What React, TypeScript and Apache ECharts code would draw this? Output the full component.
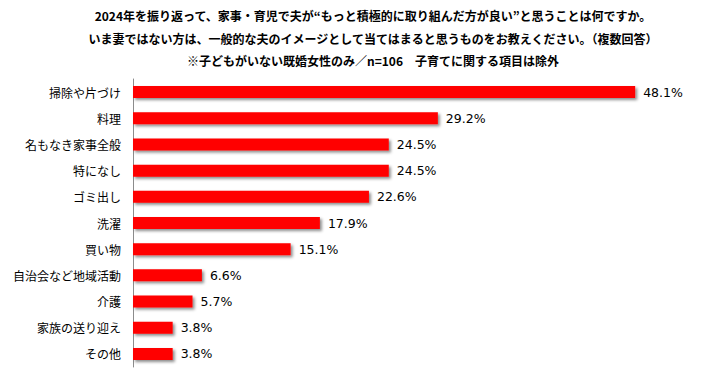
import React, { useEffect, useRef } from "react";
import * as echarts from "echarts";

const titleLines = [
  "2024年を振り返って、家事・育児で夫が“もっと積極的に取り組んだ方が良い”と思うことは何ですか。",
  "いま妻ではない方は、一般的な夫のイメージとして当てはまると思うものをお教えください。（複数回答）",
  "※子どもがいない既婚女性のみ／n=106　子育てに関する項目は除外",
];

const categories = [
  "掃除や片づけ",
  "料理",
  "名もなき家事全般",
  "特になし",
  "ゴミ出し",
  "洗濯",
  "買い物",
  "自治会など地域活動",
  "介護",
  "家族の送り迎え",
  "その他",
];

const values = [48.1, 29.2, 24.5, 24.5, 22.6, 17.9, 15.1, 6.6, 5.7, 3.8, 3.8];

export default function App() {
  const ref = useRef<HTMLDivElement>(null);
  useEffect(() => {
    if (!ref.current) return;
    const chart = echarts.init(ref.current, undefined, { renderer: "svg" });
    const titleY = [15, 38, 60];
    chart.setOption({
      animation: false,
      backgroundColor: "#ffffff",
      graphic: titleLines.map((t, i) => ({
        type: "text",
        x: 373,
        y: titleY[i],
        style: {
          text: t,
          fill: "#000000",
          font: "bold 12px 'Noto Sans CJK JP'",
          align: "center",
          verticalAlign: "middle",
        },
      })),
      grid: { left: 133, right: 49, top: 79, bottom: 13, containLabel: false },
      xAxis: {
        type: "value",
        min: 0,
        max: 50,
        show: false,
      },
      yAxis: {
        type: "category",
        data: categories,
        inverse: true,
        axisLine: { show: true, lineStyle: { color: "#8c8c8c", width: 1 } },
        axisTick: { show: false },
        axisLabel: {
          margin: 12,
          color: "#000000",
          fontSize: 12,
          fontFamily: "'Noto Sans CJK JP'",
        },
      },
      series: [
        {
          type: "bar",
          data: values,
          barWidth: 12,
          itemStyle: {
            color: "#ff0000",
            shadowColor: "rgba(0,0,0,0.45)",
            shadowBlur: 3,
            shadowOffsetX: 2,
            shadowOffsetY: 2,
          },
          label: {
            show: true,
            position: "right",
            distance: 8,
            formatter: (p: any) => p.value.toFixed(1) + "%",
            color: "#000000",
            fontSize: 12.5,
            fontFamily: "'DejaVu Sans'",
          },
        },
      ],
    });
    return () => chart.dispose();
  }, []);
  return (
    <div
      ref={ref}
      style={{ position: "fixed", left: 0, top: 0, width: 704, height: 380 }}
    />
  );
}
